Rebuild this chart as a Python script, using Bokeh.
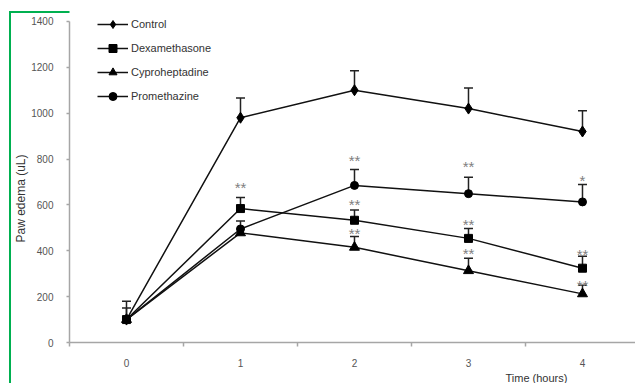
import numpy as np
from bokeh.plotting import figure
from bokeh.models import (ColumnDataSource, Range1d, FixedTicker, Whisker, TeeHead,
                          Legend, LegendItem, Title)
from bokeh.core.properties import value
from bokeh.embed import file_html
from bokeh.resources import INLINE

# ---- data ----
hours = [0, 1, 2, 3, 4]
tick_labels = ["0", "1", "2", "3", "4"]
control = [100, 980, 1100, 1020, 920]
control_err = [80, 86, 85, 90, 91]
dexamethasone = [100, 584, 533, 454, 324]
dexamethasone_err = [0, 48, 45, 43, 52]
cyproheptadine = [100, 478, 415, 313, 212]
cyproheptadine_err = [0, 0, 47, 54, 38]
promethazine = [100, 495, 685, 649, 613]
promethazine_err = [50, 35, 69, 72, 76]
series_names = ["Control", "Dexamethasone", "Cyproheptadine", "Promethazine"]

star_x = [1, 2, 2, 2, 3, 3, 3, 4, 4, 4]
star_y = [693, 809, 621, 494, 783, 530, 407, 723, 400, 266]
star_text = ["**", "**", "**", "**", "**", "**", "**", "*", "**", "**"]

FONT = "Liberation Sans"
AXIS_GRAY = "#a6a6a6"

p = figure(width=635, height=383, output_backend="svg", toolbar_location=None,
           x_range=Range1d(-0.5, 4.465), y_range=Range1d(0, 1469.4),
           min_border_left=69, min_border_right=0, min_border_top=5, min_border_bottom=39)
p.border_fill_color = None
p.background_fill_color = "white"
p.outline_line_color = None
p.grid.visible = False
p.styles = {"box-shadow": "inset 9px 11px 0 0 #ffffff, inset 11px 13px 0 0 #00b050"}

# x axis: labels at categories, tick marks between categories
p.xaxis.ticker = FixedTicker(ticks=hours, minor_ticks=[-0.5, 0.5, 1.5, 2.5, 3.5, 4.5])
p.xaxis.major_label_overrides = {h: t for h, t in zip(hours, tick_labels)}
p.xaxis.major_tick_line_color = None
p.xaxis.major_tick_in = 0
p.xaxis.major_tick_out = 0
p.xaxis.minor_tick_in = 0
p.xaxis.minor_tick_out = 4
p.xaxis.minor_tick_line_color = AXIS_GRAY
p.xaxis.minor_tick_line_width = 1.5
p.xaxis.major_label_standoff = 12

p.yaxis.ticker = FixedTicker(ticks=list(range(0, 1401, 200)))
p.yaxis.bounds = (0, 1400)
p.yaxis.minor_tick_line_color = None
p.yaxis.major_tick_in = 0
p.yaxis.major_tick_out = 3
p.yaxis.major_tick_line_color = AXIS_GRAY
p.yaxis.major_tick_line_width = 1.5
p.yaxis.major_label_standoff = 13
for ax in (p.xaxis, p.yaxis):
    ax.axis_line_color = AXIS_GRAY
    ax.axis_line_width = 1.5
    ax.major_label_text_font = FONT
    ax.major_label_text_font_size = "10px"
    ax.major_label_text_color = "#555555"

# axis titles as side-panel titles
p.add_layout(Title(text="Time (hours)", align="left", offset=436, standoff=0,
                   text_font=FONT, text_font_size="11px", text_font_style="normal",
                   text_color="#333333"), "below")
p.add_layout(Title(text="Paw edema (uL)", align="left", offset=100, standoff=2,
                   text_font=FONT, text_font_size="12px", text_font_style="normal",
                   text_color="#333333"), "left")

series = [
    (control, control_err, dict(marker="diamond", size=11)),
    (dexamethasone, dexamethasone_err, dict(marker="square", size=8)),
    (cyproheptadine, cyproheptadine_err, dict(marker="triangle", size=10)),
    (promethazine, promethazine_err, dict(marker="circle", size=8)),
]

items = []
for name, (vals, errs, mk) in zip(series_names, series):
    src = ColumnDataSource(dict(x=hours, y=vals))
    lr = p.line("x", "y", source=src, line_color="#111111", line_width=1.5)
    sr = p.scatter("x", "y", source=src, fill_color="#000000", line_color="#000000", **mk)
    wx = [h for h, e in zip(hours, errs) if e > 0]
    wl = [v for v, e in zip(vals, errs) if e > 0]
    wu = [v + e for v, e in zip(vals, errs) if e > 0]
    wsrc = ColumnDataSource(dict(x=wx, lo=wl, up=wu))
    w = Whisker(base="x", lower="lo", upper="up", dimension="height", source=wsrc,
                line_color="#222222", line_width=1.5,
                upper_head=TeeHead(size=9, line_width=1.5, line_color="#222222"),
                lower_head=None)
    p.add_layout(w)
    items.append(LegendItem(label=name, renderers=[lr, sr]))

legend = Legend(items=items, location=(28, 236), padding=0, margin=0, spacing=4,
                glyph_width=31, glyph_height=20, label_height=20, label_standoff=3,
                label_text_font=FONT, label_text_font_size="11px", label_text_color="#333333",
                background_fill_alpha=0, border_line_color=None)
p.add_layout(legend)

p.text(x=star_x, y=star_y, text=star_text, text_font=value(FONT), text_font_size="15px",
       text_color="#808080", text_align="center", text_baseline="middle", y_offset=4)

open("out.html", "w").write(file_html(p, INLINE))
